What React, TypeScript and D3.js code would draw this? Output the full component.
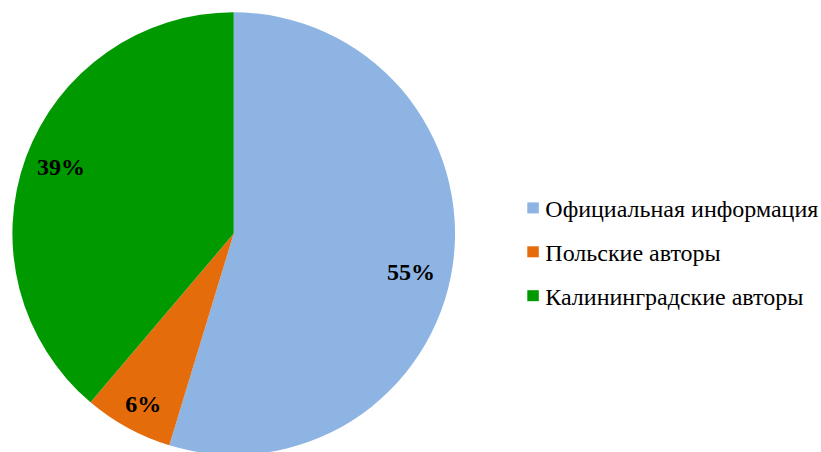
import React from "react";
import * as d3 from "d3";

const categories = ["Официальная информация", "Польские авторы", "Калининградские авторы"];
const values = [54.7, 6.5, 38.8];
const labels = ["55%", "6%", "39%"];
const colors = ["#8EB4E3", "#E46C0A", "#009900"];

const W = 821;
const H = 452;
const cx = 233.7;
const cy = 233.6;
const R = 221.3;
const FONT = "'Liberation Serif', 'Times New Roman', Times, serif";

export default function App() {
  const pie = d3.pie<number>().sort(null).value((d) => d)(values);
  const arc = d3.arc<d3.PieArcDatum<number>>().innerRadius(0).outerRadius(R);
  const labelR = [0.819, 0.869, 0.837];
  const labelShift = [3.65, -0.6, 0.95];
  return (
    <svg
      width={W}
      height={H}
      style={{ position: "absolute", left: 0, top: 0, background: "#fff" }}
    >
      <g transform={`translate(${cx},${cy})`}>
        {pie.map((p, i) => (
          <path key={i} d={arc(p) || ""} fill={colors[i]} />
        ))}
        {pie.map((p, i) => {
          const a = (p.startAngle + p.endAngle) / 2 + (labelShift[i] * Math.PI) / 180;
          const r = R * labelR[i];
          const x = Math.sin(a) * r;
          const y = -Math.cos(a) * r;
          return (
            <text
              key={i}
              x={x}
              y={y + 8.2}
              textAnchor="middle"
              style={{ fontFamily: FONT, fontWeight: "bold", fontSize: "24px" }}
              fill="#000"
            >
              {labels[i]}
            </text>
          );
        })}
      </g>
      <g transform="translate(527.3,0)">
        {categories.map((c, i) => {
          const y = 207.9 + i * 43.9;
          return (
            <g key={i} transform={`translate(0,${y})`}>
              <rect x={0} y={-5.5} width={11.5} height={11} fill={colors[i]} />
              <text
                x={18}
                y={9.5}
                style={{ fontFamily: FONT, fontSize: "24px" }}
                fill="#000"
              >
                {c}
              </text>
            </g>
          );
        })}
      </g>
    </svg>
  );
}
